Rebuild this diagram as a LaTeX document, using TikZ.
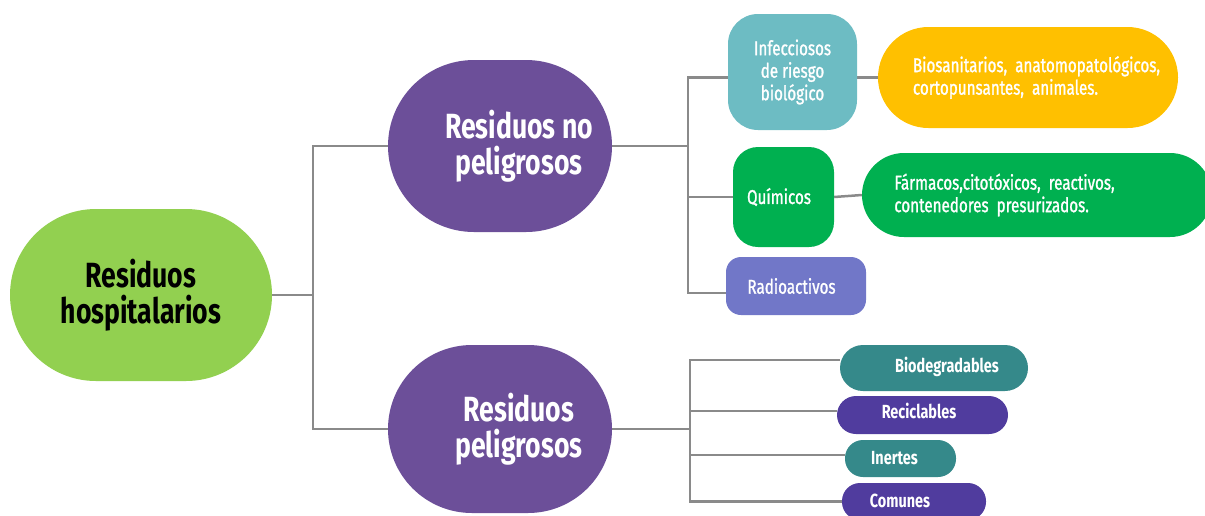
\documentclass[tikz,border=0pt]{standalone}
\usepackage{fontspec}
\setmainfont[FakeStretch=0.76]{Fira Sans}
\newfontfamily\medfont[FakeStretch=0.76,FakeBold=1.2]{Fira Sans}
\usetikzlibrary{backgrounds}
\definecolor{cRoot}{HTML}{92D050}
\definecolor{cPurp}{HTML}{6C4F99}
\definecolor{cInf}{HTML}{6DBCC3}
\definecolor{cOra}{HTML}{FFC000}
\definecolor{cGrn}{HTML}{00B050}
\definecolor{cRad}{HTML}{7177C8}
\definecolor{cTeal}{HTML}{35898A}
\definecolor{cViol}{HTML}{503C9E}
\definecolor{cLine}{HTML}{8A8A8A}
\tikzset{
  box/.style={inner sep=0pt, text=white, align=center},
  bigtxt/.style={font=\fontsize{35}{36}\selectfont\bfseries},
  midtxt/.style={font=\fontsize{20}{22.5}\selectfont\medfont},
  lowtxt/.style={font=\fontsize{19}{22}\selectfont\bfseries},
  conn/.style={draw=cLine, line width=2.5pt},
}
\begin{document}
\begin{tikzpicture}[x=1pt,y=-1pt]
\useasboundingbox (0,0) rectangle (1205,515);
% main nodes
\node[box, bigtxt, text=black, fill=cRoot, minimum width=262pt, minimum height=172pt, rounded corners=86pt] (root) at (141,295) {Residuos\\hospitalarios};
\node[box, bigtxt, fill=cPurp, minimum width=224pt, minimum height=172pt, rounded corners=86pt] (up) at (500,146) {\hspace*{38pt}Residuos no\\\hspace*{38pt}peligrosos};
\node[box, bigtxt, fill=cPurp, minimum width=224pt, minimum height=168pt, rounded corners=84pt] (low) at (500,429) {\hspace*{38pt}Residuos\\\hspace*{38pt}peligrosos};
% upper branch
\node[box, midtxt, fill=cInf, minimum width=129pt, minimum height=116pt, rounded corners=30pt] (inf) at (792.5,72) {Infecciosos\\de riesgo\\biológico};
\node[box, midtxt, align=left, fill=cOra, minimum width=300pt, minimum height=101pt, rounded corners=50.5pt] (bio) at (1028,77.5) {\hspace*{17pt}Biosanitarios,\ \ anatomopatológicos,\\\hspace*{17pt}cortopunsantes,\ \ animales.};
\node[box, midtxt, fill=cGrn, minimum width=101pt, minimum height=100pt, rounded corners=25pt] (qui) at (783.5,197) {Químicos\hspace*{9pt}};
\node[box, midtxt, align=left, fill=cGrn, minimum width=350pt, minimum height=84pt, rounded corners=42pt] (far) at (1037,195) {Fármacos,citotóxicos,\ \ reactivos,\hspace*{65pt}\\contenedores\ \ presurizados.};
\node[box, midtxt, fill=cRad, minimum width=140pt, minimum height=58pt, rounded corners=15pt] (rad) at (796,286) {Radioactivos\hspace*{9pt}};
% lower branch
\node[box, lowtxt, fill=cTeal, minimum width=188pt, minimum height=46pt, rounded corners=23pt] (bdg) at (934,368) {\raisebox{7pt}{\hspace*{26pt}Biodegradables}};
\node[box, lowtxt, fill=cViol, minimum width=171pt, minimum height=38pt, rounded corners=19pt] (rec) at (922.5,415) {\raisebox{9pt}{Reciclables\hspace*{7pt}}};
\node[box, lowtxt, fill=cTeal, minimum width=111pt, minimum height=37pt, rounded corners=18pt] (ine) at (900.5,458.5) {Inertes\hspace*{12pt}};
\node[box, lowtxt, fill=cViol, minimum width=144pt, minimum height=37pt, rounded corners=18pt] (com) at (914,501.5) {\raisebox{2pt}{Comunes\hspace*{28pt}}};
% connectors
\coordinate (j1) at (313,295);
\coordinate (j2) at (688,146);
\coordinate (j3) at (690,429);
\begin{pgfonlayer}{background}
\draw[conn] (root.east) -- (j1);
\draw[conn] (up.west) -| (j1) |- (low.west);
\draw[conn] (up.east) -- (j2);
\draw[conn] (inf.west |- bio.west) -| (j2) |- ([yshift=-7pt]rad.west);
\draw[conn] (qui.west) -| (j2);
\draw[conn] (inf.east |- bio.west) -- (bio.west);
\draw[conn] (qui.east) -- (far.west);
\draw[conn] (low.east) -- (j3);
\draw[conn] ([yshift=8pt]bdg.west) -| (j3) |- (com.west);
\draw[conn] ([yshift=4pt]rec.west) -| (j3);
\draw[conn] ([yshift=3.5pt]ine.west) -| (j3);
\end{pgfonlayer}
\end{tikzpicture}
\end{document}
